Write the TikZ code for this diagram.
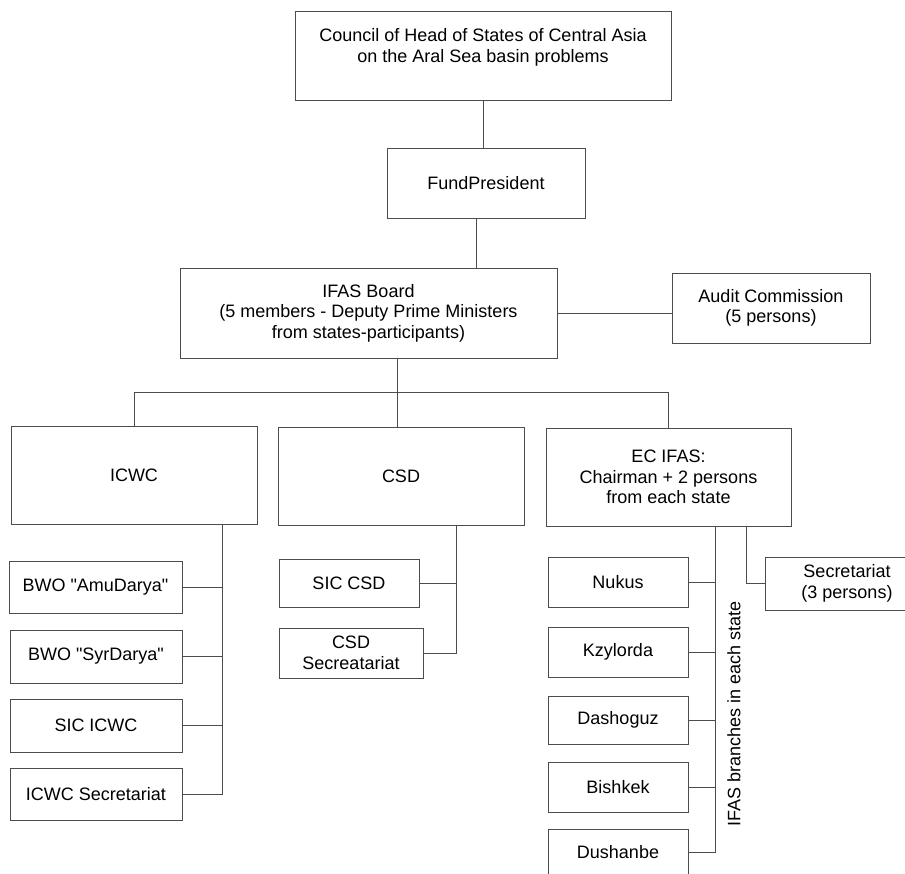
\documentclass[tikz,border=0pt]{standalone}
\usepackage{fontspec}
\setmainfont{Liberation Sans}
\begin{document}
\begin{tikzpicture}[x=1pt,y=-1pt,
    box/.style={draw=black!70, line width=1pt, inner sep=0pt, align=center,
                font=\fontsize{18}{20.5}\selectfont},
    link/.style={draw=black!70, line width=1pt}]
    \useasboundingbox (0,0) rectangle (905,873);
    \clip (0,0) rectangle (905,873);

    %Nodes
    \node[box, minimum width=376pt, minimum height=89pt] at (483,55.5)  (council)
        {Council of Head of States of Central Asia\\on the Aral Sea basin problems\\\mbox{}};
    \node[box, minimum width=198pt, minimum height=70pt] at (486,183)   (fund) {FundPresident};
    \node[box, minimum width=377pt, minimum height=90pt] at (368.5,313) (board)
        {IFAS Board\\(5 members - Deputy Prime Ministers\\from states-participants)};
    \node[box, minimum width=198pt, minimum height=70pt] at (771,308)   (audit) {Audit Commission\\(5 persons)};
    \node[box, minimum width=246pt, minimum height=98pt] at (134,475)   (icwc) {ICWC};
    \node[box, minimum width=246pt, minimum height=98pt] at (401,476)   (csd) {CSD};
    \node[box, minimum width=245pt, minimum height=98pt] at (668.5,477) (ec)
        {EC IFAS:\\Chairman + 2 persons\\from each state};

    \node[box, minimum width=173pt, minimum height=52pt] at (95.5,587)  (bwoamu) {BWO \textquotedbl AmuDarya\textquotedbl};
    \node[box, minimum width=172pt, minimum height=53pt] at (96,656.5)  (bwosyr) {BWO \textquotedbl SyrDarya\textquotedbl};
    \node[box, minimum width=172pt, minimum height=53pt] at (96,725.5)  (sicicwc) {SIC ICWC};
    \node[box, minimum width=172pt, minimum height=52pt] at (96,794)    (icwcsec) {ICWC Secretariat};

    \node[box, minimum width=140pt, minimum height=48pt] at (349,583)   (siccsd) {SIC CSD};
    \node[box, minimum width=144pt, minimum height=50pt] at (351,653)   (csdsec) {CSD\\Secreatariat};

    \node[box, minimum width=140pt, minimum height=50pt] at (618,582)   (nukus) {Nukus};
    \node[box, minimum width=140pt, minimum height=50pt] at (618,652)   (kzyl) {Kzylorda};
    \node[box, minimum width=140pt, minimum height=48pt] at (618,720)   (dasho) {Dashoguz};
    \node[box, minimum width=140pt, minimum height=50pt] at (618,787)   (bish) {Bishkek};
    \node[box, minimum width=140pt, minimum height=46pt] at (618,852)   (dush) {Dushanbe};
    \node[box, minimum width=164pt, minimum height=53pt] at (847,583.5) (ecsec) {Secretariat\\(3 persons)};

    \node[rotate=90, inner sep=0pt, font=\fontsize{18}{20.5}\selectfont] at (734,714) (branches)
        {IFAS branches in each state};

    %Lines
    \draw[link] (council.south) -- (council.south |- fund.north);
    \draw[link] ([xshift=-10pt]fund.south) -- ([xshift=-10pt]fund.south |- board.north);
    \draw[link] (board.east) -- (board.east -| audit.west);
    \draw[link] ([xshift=28.5pt]board.south) -- ++(0,34) coordinate (bus);
    \draw[link] (icwc.north) |- (bus) -| (ec.north);
    \draw[link] (bus) -- (bus |- csd.north);

    % ICWC
    \draw[link] ([xshift=88pt]icwc.south) coordinate (icwcbus) |- (icwcsec.east);
    \foreach \n in {bwoamu,bwosyr,sicicwc}
        \draw[link] (\n.east) -- (\n.east -| icwcbus);

    % CSD
    \draw[link] ([xshift=55pt]csd.south) coordinate (csdbus) |- (csdsec.east);
    \draw[link] (siccsd.east) -- (siccsd.east -| csdbus);

    % EC IFAS
    \draw[link] ([xshift=46.5pt]ec.south) coordinate (ecbus) |- (dush.east);
    \foreach \n in {nukus,kzyl,dasho,bish}
        \draw[link] (\n.east) -- (\n.east -| ecbus);
    \draw[link] ([xshift=77.5pt]ec.south) |- (ecsec.west);
\end{tikzpicture}
\end{document}
